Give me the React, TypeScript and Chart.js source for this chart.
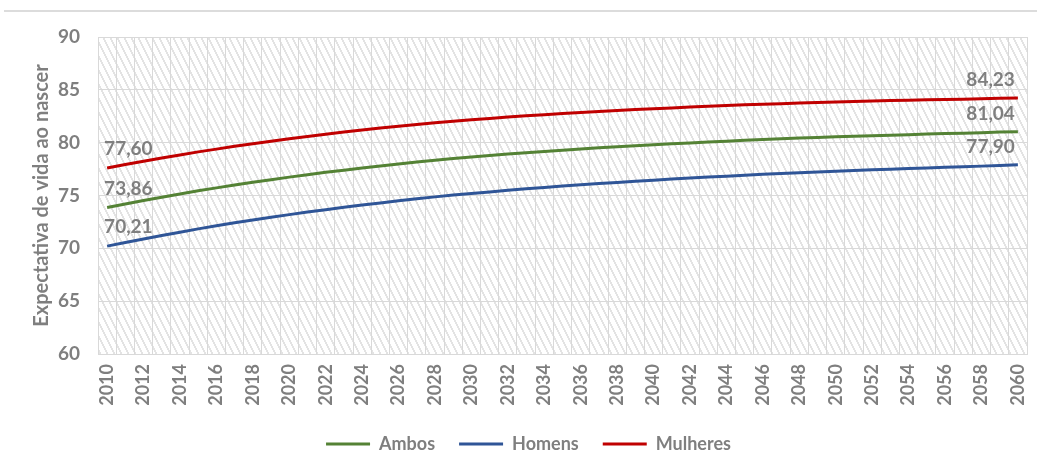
import React, { useEffect, useRef } from 'react';
import { Chart, registerables } from 'chart.js';

Chart.register(...registerables);

const years = [
  '2010', '2011', '2012', '2013', '2014', '2015', '2016', '2017', '2018', '2019',
  '2020', '2021', '2022', '2023', '2024', '2025', '2026', '2027', '2028', '2029',
  '2030', '2031', '2032', '2033', '2034', '2035', '2036', '2037', '2038', '2039',
  '2040', '2041', '2042', '2043', '2044', '2045', '2046', '2047', '2048', '2049',
  '2050', '2051', '2052', '2053', '2054', '2055', '2056', '2057', '2058', '2059', '2060',
];

const ambos = [
  73.86, 74.2, 74.52, 74.84, 75.14, 75.44, 75.72, 76.0, 76.25, 76.5,
  76.74, 76.97, 77.19, 77.4, 77.61, 77.8, 77.99, 78.17, 78.34, 78.5,
  78.64, 78.78, 78.92, 79.05, 79.17, 79.29, 79.4, 79.51, 79.61, 79.71,
  79.8, 79.89, 79.98, 80.06, 80.14, 80.22, 80.29, 80.36, 80.43, 80.49,
  80.55, 80.61, 80.66, 80.71, 80.76, 80.81, 80.86, 80.9, 80.95, 81.0, 81.04,
];

const homens = [
  70.21, 70.56, 70.89, 71.22, 71.53, 71.84, 72.13, 72.42, 72.68, 72.94,
  73.19, 73.43, 73.66, 73.88, 74.1, 74.3, 74.5, 74.69, 74.87, 75.04,
  75.19, 75.34, 75.49, 75.63, 75.76, 75.89, 76.01, 76.13, 76.24, 76.35,
  76.45, 76.55, 76.65, 76.74, 76.83, 76.92, 77.0, 77.08, 77.16, 77.23,
  77.3, 77.37, 77.43, 77.49, 77.55, 77.61, 77.67, 77.72, 77.78, 77.84, 77.9,
];

const mulheres = [
  77.6, 77.93, 78.24, 78.55, 78.84, 79.13, 79.39, 79.66, 79.9, 80.14,
  80.37, 80.59, 80.8, 81.0, 81.2, 81.38, 81.55, 81.72, 81.88, 82.03,
  82.16, 82.29, 82.42, 82.54, 82.65, 82.76, 82.85, 82.95, 83.04, 83.13,
  83.21, 83.29, 83.37, 83.44, 83.51, 83.58, 83.63, 83.69, 83.75, 83.8,
  83.85, 83.9, 83.94, 83.98, 84.02, 84.06, 84.09, 84.12, 84.16, 84.2, 84.23,
];

const seriesNames = ['Ambos', 'Homens', 'Mulheres'];
const seriesColors = ['#548235', '#2F5597', '#C00000'];
const yMin = 60;
const yMax = 90;
const yStep = 5;
const axisTitle = 'Expectativa de vida ao nascer';

const FONT = 'Lato';
const TEXT = '#7f7f7f';
const GRID = '#d9d9d9';

function makeHatch(ctx: CanvasRenderingContext2D) {
  const c = document.createElement('canvas');
  c.width = 7;
  c.height = 14;
  const g = c.getContext('2d')!;
  g.fillStyle = '#ffffff';
  g.fillRect(0, 0, 7, 14);
  g.fillStyle = '#e3e3e3';
  for (let y = 0; y < 14; y++) {
    for (let x = 0; x < 7; x++) {
      const k = (((x - Math.floor(y / 2)) % 7) + 7) % 7;
      if (k < 2) g.fillRect(x, y, 1, 1);
    }
  }
  return ctx.createPattern(c, 'repeat');
}

const hatchPlugin = {
  id: 'hatch',
  beforeDraw(chart: any) {
    const { ctx, chartArea } = chart;
    if (!chartArea) return;
    ctx.save();
    ctx.fillStyle = makeHatch(ctx) as any;
    ctx.fillRect(chartArea.left, chartArea.top, chartArea.right - chartArea.left, chartArea.bottom - chartArea.top);
    ctx.restore();
  },
};

const endLabelsPlugin = {
  id: 'endLabels',
  afterDatasetsDraw(chart: any) {
    const { ctx } = chart;
    ctx.save();
    ctx.font = `bold 19px ${FONT}`;
    ctx.fillStyle = TEXT;
    ctx.textBaseline = 'middle';
    chart.data.datasets.forEach((ds: any, i: number) => {
      const meta = chart.getDatasetMeta(i);
      const pts = meta.data;
      const first = pts[0];
      const last = pts[pts.length - 1];
      const fmt = (v: number) => v.toFixed(2).replace('.', ',');
      ctx.textAlign = 'left';
      ctx.fillText(fmt(ds.data[0]), first.x - 3, first.y - 19);
      ctx.textAlign = 'right';
      ctx.fillText(fmt(ds.data[ds.data.length - 1]), last.x - 3, last.y - 18);
    });
    ctx.restore();
  },
};

export default function App() {
  const ref = useRef<HTMLCanvasElement>(null);

  useEffect(() => {
    if (!ref.current) return;
    const series = [ambos, homens, mulheres];
    const chart = new Chart(ref.current, {
      type: 'line',
      data: {
        labels: years,
        datasets: series.map((d, i) => ({
          label: seriesNames[i],
          data: d,
          borderColor: seriesColors[i],
          backgroundColor: seriesColors[i],
          borderWidth: 3,
          pointRadius: 0,
          tension: 0,
          fill: false,
        })),
      },
      options: {
        responsive: false,
        animation: false,
        layout: { padding: { top: 37, right: 10, bottom: 1, left: 30 } },
        plugins: {
          tooltip: { enabled: false },
          legend: {
            position: 'bottom',
            labels: {
              usePointStyle: true,
              pointStyle: 'line',
              pointStyleWidth: 44,
              boxHeight: 18,
              padding: 24,
              color: TEXT,
              font: { family: FONT, size: 18, weight: 'bold' },
            },
          },
        },
        scales: {
          x: {
            offset: true,
            grid: { offset: true, color: GRID, drawTicks: false },
            border: { color: GRID },
            ticks: {
              autoSkip: false,
              minRotation: 90,
              maxRotation: 90,
              padding: 10,
              color: TEXT,
              font: { family: FONT, size: 18, weight: 'bold' },
              callback: (v: any, i: number) => (i % 2 === 0 ? years[i] : ''),
            },
            afterFit: (s: any) => {
              s.height = 57;
              s.paddingLeft = 0;
              s.paddingRight = 0;
            },
          },
          y: {
            min: yMin,
            max: yMax,
            grid: { color: GRID, drawTicks: false },
            border: { color: GRID },
            ticks: {
              stepSize: yStep,
              padding: 18,
              color: TEXT,
              font: { family: FONT, size: 19, weight: 'bold' },
            },
            title: {
              display: true,
              text: axisTitle,
              color: TEXT,
              padding: { top: 0, bottom: 0 },
              font: { family: FONT, size: 20, weight: 'bold' },
            },
            afterFit: (s: any) => {
              s.width = 68;
              s.paddingTop = 0;
              s.paddingBottom = 0;
            },
          },
        },
      },
      plugins: [hatchPlugin, endLabelsPlugin],
    });
    return () => chart.destroy();
  }, []);

  return (
    <div style={{ position: 'absolute', left: 0, top: 0, width: 1037, height: 464, background: '#ffffff' }}>
      <div style={{ position: 'absolute', left: 4, top: 10, width: 1033, height: 2, background: '#dcdcdc' }} />
      <canvas ref={ref} width={1037} height={464} style={{ position: 'absolute', left: 0, top: 0 }} />
    </div>
  );
}
